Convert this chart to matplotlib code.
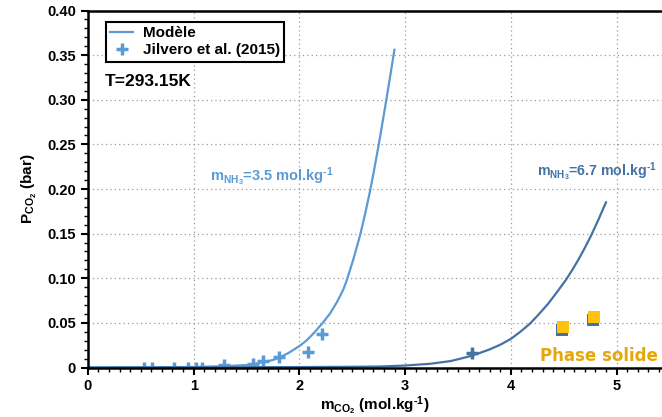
import matplotlib.pyplot as plt
from matplotlib.ticker import MultipleLocator, FuncFormatter

plt.rcParams['font.family'] = ['Liberation Sans', 'DejaVu Sans']
plt.rcParams['font.weight'] = 'bold'
plt.rcParams['axes.labelweight'] = 'bold'
plt.rcParams['mathtext.fontset'] = 'custom'
plt.rcParams['mathtext.rm'] = 'Liberation Sans:bold'
plt.rcParams['mathtext.it'] = 'Liberation Sans:bold'
plt.rcParams['mathtext.bf'] = 'Liberation Sans:bold'
plt.rcParams['mathtext.default'] = 'regular'

# model curve, m_NH3 = 3.5 mol/kg
m35_x = [0.0, 0.5, 1.0, 1.3, 1.534, 1.66, 1.75, 1.817, 1.9, 2.0, 2.07, 2.14,
         2.221, 2.29, 2.354, 2.385, 2.416, 2.448, 2.51, 2.574, 2.62, 2.669,
         2.705, 2.742, 2.78, 2.817, 2.86, 2.899]
m35_y = [0.0, 0.0001, 0.0006, 0.0015, 0.003, 0.0061, 0.0084, 0.0114, 0.0165,
         0.024, 0.0305, 0.039, 0.050, 0.0605, 0.073, 0.080, 0.0875, 0.0975,
         0.121, 0.148, 0.171, 0.198, 0.220, 0.244, 0.270, 0.296, 0.327, 0.356]

# model curve, m_NH3 = 6.7 mol/kg
m67_x = [0.0, 1.0, 2.0, 2.5, 2.76, 3.0, 3.24, 3.43, 3.52, 3.61, 3.70, 3.80,
         3.9, 4.0, 4.09, 4.18, 4.26, 4.35, 4.44, 4.52, 4.58, 4.64, 4.70, 4.76,
         4.83, 4.90]
m67_y = [0.0, 0.0002, 0.0005, 0.0008, 0.0011, 0.0022, 0.0042, 0.0072, 0.0098,
         0.0125, 0.016, 0.0203, 0.0255, 0.032, 0.040, 0.049, 0.059, 0.071,
         0.085, 0.098, 0.109, 0.121, 0.134, 0.148, 0.166, 0.185]

# Jilvero et al. (2015)
exp35_x = [0.53, 0.61, 0.81, 0.95, 1.02, 1.08, 1.29, 1.56, 1.66, 1.808, 2.085, 2.212]
exp35_y = [0.0, 0.0, 0.0, 0.0, 0.0, 0.0, 0.003, 0.004, 0.0076, 0.0114, 0.0177, 0.0374]
exp67_x = [3.63]
exp67_y = [0.016]

# solid phase points
solid_blue_x = [4.485, 4.779]
solid_blue_y = [0.0421, 0.0533]
solid_x = [4.493, 4.785]
solid_y = [0.0455, 0.0566]

light = '#5B9BD5'
dark = '#4472A4'
gold = '#FFC20E'

fig = plt.figure(figsize=(6.62, 4.17), dpi=100)
ax = fig.add_axes([0.1328, 0.1187, 0.8672, 0.8561])

ax.plot(m35_x, m35_y, color=light, lw=1.6, label='Modèle',
        solid_joinstyle='round')
ax.plot(exp35_x, exp35_y, '+', color=light, ms=9, mew=2.5,
        label='Jilvero et al. (2015)')
ax.plot(m67_x, m67_y, color=dark, lw=1.6, solid_joinstyle='round')
ax.plot(exp67_x, exp67_y, '+', color=dark, ms=9, mew=2.5)
ax.plot(solid_blue_x, solid_blue_y, 's', color=dark, ms=8.5, mew=0)
ax.plot(solid_x, solid_y, 's', color=gold, ms=8.5, mew=0)

ax.set_xlim(0, 5.43)
ax.set_ylim(0, 0.40)
ax.xaxis.set_major_locator(MultipleLocator(1))
ax.xaxis.set_minor_locator(MultipleLocator(0.1))
ax.yaxis.set_major_locator(MultipleLocator(0.05))
ax.yaxis.set_minor_locator(MultipleLocator(0.01))
ax.yaxis.set_major_formatter(FuncFormatter(lambda v, p: '0' if abs(v) < 1e-9 else f'{v:.2f}'))
ax.tick_params(which='major', direction='out', length=5, width=1.5, labelsize=10.5)
ax.tick_params(which='minor', direction='out', length=3, width=1)
for lab in ax.get_xticklabels() + ax.get_yticklabels():
    lab.set_fontweight('bold')
ax.grid(True, which='major', ls=(0, (1, 2.5)), color='#999999', lw=0.9)

for s in ['left', 'bottom', 'top']:
    ax.spines[s].set_linewidth(1.8)
ax.spines['right'].set_visible(False)

ax.set_xlabel(r'm$_{CO_2}$ (mol.kg$^{\text{-1}}$)', fontsize=11, labelpad=1)
ax.set_ylabel(r'P$_{CO_2}$ (bar)', fontsize=11, labelpad=6)

leg = ax.legend(loc='upper left', bbox_to_anchor=(0.018, 0.99), fontsize=11,
                fancybox=False, edgecolor='black', framealpha=1,
                borderpad=0.3, labelspacing=0.2, handlelength=1.5,
                handletextpad=0.6)
leg.get_frame().set_linewidth(1.5)

ax.text(0.03, 0.80, 'T=293.15K', transform=ax.transAxes, fontsize=12.5,
        va='center', ha='left')
ax.text(1.155, 0.2095, r'm$_{NH_3}$=3.5 mol.kg$^{\text{-1}}$', color=light,
        fontsize=10.5, va='baseline')
ax.text(4.25, 0.215, r'm$_{NH_3}$=6.7 mol.kg$^{\text{-1}}$', color=dark,
        fontsize=10.2, va='baseline')
ax.text(4.28, 0.0075, 'Phase solide', color='#E5A80C', fontsize=12,
        family='DejaVu Sans', fontweight='bold', va='baseline')

fig.savefig('out.png', dpi=100)
